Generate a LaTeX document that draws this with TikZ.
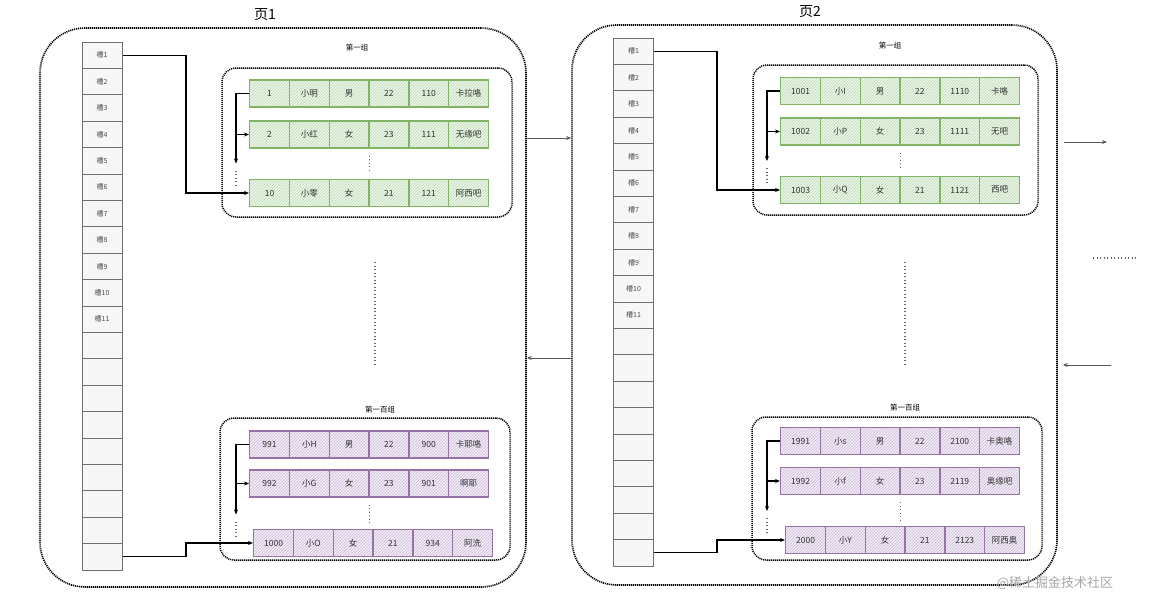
\documentclass[tikz,border=0pt]{standalone}
\usepackage{fontspec}
\setmainfont{Noto Sans CJK SC}
\usepackage{xcolor}
\usepackage{tikz}
\usetikzlibrary{arrows.meta, calc, patterns}

\definecolor{gline}{HTML}{82B366}
\definecolor{gfill}{HTML}{EEF6EC}
\definecolor{ghatch}{HTML}{B9D8AF}
\definecolor{pline}{HTML}{9673A6}
\definecolor{pfill}{HTML}{F3EEF6}
\definecolor{phatch}{HTML}{CDB9D8}
\definecolor{slotline}{HTML}{707070}
\definecolor{slotfill}{HTML}{F7F7F7}

% one record: name, left x, centre y, cell style, six values
\newcommand{\recrow}[5]{%
  \foreach \v [count=\i] in {#5} {
    \node[#4, anchor=west] (#1-\i) at ($(#2,#3)+({(\i-1)*39.8},0)$) {\v};
  }%
}

\begin{document}
\begin{tikzpicture}[
    x=1pt, y=-1pt,
    >={Stealth[length=5pt, width=4pt]},
    font=\fontsize{8.5}{9}\selectfont,
    page/.style  = {draw, line width=1.7pt, dash pattern=on 1.1pt off 0.9pt,
                    rounded corners=45pt, inner sep=0pt},
    grp/.style   = {draw, line width=1.5pt, dash pattern=on 1.1pt off 0.9pt,
                    rounded corners=14pt, inner sep=0pt},
    slot/.style  = {draw=slotline, fill=slotfill, line width=1pt,
                    minimum width=40pt, minimum height=26.4pt, inner sep=0pt,
                    font=\fontsize{7}{7}\selectfont, text=black!70},
    cell/.style  = {line width=1.3pt, minimum width=39.8pt, minimum height=27pt,
                    inner sep=0pt, text=black!80},
    gcell/.style = {cell, draw=gline, preaction={fill=gfill},
                    pattern=north east lines, pattern color=ghatch},
    pcell/.style = {cell, draw=pline, preaction={fill=pfill},
                    pattern=north east lines, pattern color=phatch},
    link/.style  = {->, line width=1.2pt},
    pg/.style    = {->, line width=1pt, draw=black!65},
    dots/.style  = {line width=1.1pt, dash pattern=on 1pt off 2.5pt, draw=black!60},
    ttl/.style   = {font=\fontsize{14}{16}\selectfont},
    glab/.style  = {font=\fontsize{7.5}{8}\selectfont}
]
\useasboundingbox (0,0) rectangle (1166,608);

% ---------------- pages ----------------
\node[page, minimum width=486pt, minimum height=559pt] (page1) at (283,307.5) {};
\node[page, minimum width=485pt, minimum height=560pt] (page2) at (814.5,305) {};
\node[ttl] (t1) at (265,15) {页1};
\node[ttl] (t2) at (810,12) {页2};

% ---------------- slot columns ----------------
\foreach \p/\sx/\sy in {1/102/42, 2/633.5/38} {
  \foreach \k in {1,...,20} {
    \node[slot] (s\p-\k) at (\sx, {\sy+(\k-0.5)*26.4}) {\ifnum\k<12 槽\k\fi};
  }
}

% ---------------- groups ----------------
\node[grp, minimum width=290pt, minimum height=149pt] (ga) at (367,142.5) {};
\node[grp, minimum width=290pt, minimum height=142pt] (gb) at (365,489) {};
\node[grp, minimum width=285pt, minimum height=150pt] (gc) at (895.5,140) {};
\node[grp, minimum width=290pt, minimum height=143pt] (gd) at (897,488.5) {};
\node[glab] (la) at (357,48)  {第一组};
\node[glab] (lb) at (380,410) {第一百组};
\node[glab] (lc) at (890,46)  {第一组};
\node[glab] (ld) at (905,408) {第一百组};

% ---------------- records ----------------
\recrow{a1}{249}{93.5}{gcell}{1,小明,男,22,110,卡拉咯}
\recrow{a2}{249}{134.5}{gcell}{2,小红,女,23,111,无缘吧}
\recrow{a3}{249}{193}{gcell}{10,小零,女,21,121,阿西吧}
\recrow{b1}{249}{444.5}{pcell}{991,小H,男,22,900,卡耶咯}
\recrow{b2}{249}{483.5}{pcell}{992,小G,女,23,901,啊耶}
\recrow{b3}{253}{543}{pcell}{1000,小O,女,21,934,阿洗}
\recrow{c1}{780}{91}{gcell}{1001,小I,男,22,1110,卡咯}
\recrow{c2}{780}{131.5}{gcell}{1002,小P,女,23,1111,无吧}
\recrow{c3}{780}{190}{gcell}{1003,小Q,女,21,1121,西吧}
\recrow{d1}{780}{441}{pcell}{1991,小s,男,22,2100,卡奥咯}
\recrow{d2}{780}{481}{pcell}{1992,小f,女,23,2119,奥缘吧}
\recrow{d3}{785}{540}{pcell}{2000,小Y,女,21,2123,阿西奥}

% record chain inside each group
\foreach \g in {a,b,c,d} {
  \draw[link] (\g1-1.west) -- ++(-13,0) coordinate (\g bus) -- ++(0,70);
  \draw[link] (\g bus |- \g2-1.west) -- (\g2-1.west);
  \draw[dots] ($(\g bus)+(0,77)$) -- ($(\g bus |- \g3-1.west)+(0,-6)$);
  \draw[dots] ([yshift=-7pt]\g2-3.south east) -- ([yshift=6pt]\g2-3.south east |- \g3-3.north);
}

% ---------------- slots -> groups ----------------
\coordinate (p1turn) at (186,0);
\coordinate (p2turn) at (717,0);
\draw[link] (s1-1.east)  -| (p1turn |- a3-1.west) -- (a3-1.west);
\draw[link] (s1-20.east) -| (p1turn |- b3-1.west) -- (b3-1.west);
\draw[link] (s2-1.east)  -| (p2turn |- c3-1.west) -- (c3-1.west);
\draw[link] (s2-20.east) -| (p2turn |- d3-1.west) -- (d3-1.west);

% ---------------- page links ----------------
\coordinate (fwd)    at (0,138);
\coordinate (back)   at (0,358);
\coordinate (nxtout) at (1107,142);
\coordinate (nxtin)  at (1111,365);
\draw[pg] (page1.east |- fwd) -- (page2.west |- fwd);
\draw[pg] (page2.west |- back) -- (page1.east |- back);
\draw[pg] ($(page2.east |- nxtout)+(6,0)$) -- (nxtout);
\draw[pg] (nxtin) -- ($(page2.east |- nxtin)+(5,0)$);

% ---------------- ellipses ----------------
\coordinate (m1a) at (375,262);  \coordinate (m1b) at (375,365);
\coordinate (m2a) at (905,262);  \coordinate (m2b) at (905,365);
\coordinate (m3a) at (1093,258); \coordinate (m3b) at (1137,258);
\draw[dots] (m1a) -- (m1b);
\draw[dots] (m2a) -- (m2b);
\draw[dots] (m3a) -- (m3b);

\node[text=black!35, font=\fontsize{13}{14}\selectfont] (wm) at (1055,583) {@稀土掘金技术社区};

\end{tikzpicture}
\end{document}
